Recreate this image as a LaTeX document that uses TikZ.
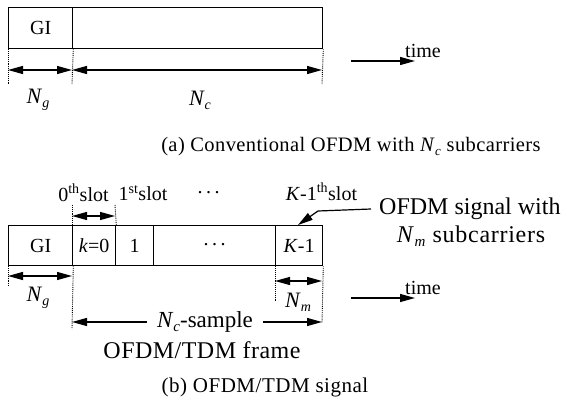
\documentclass[tikz,border=0pt]{standalone}
\usepackage{fontspec}
\setmainfont{Liberation Serif}
\usetikzlibrary{arrows.meta,calc}
\newcommand{\myN}[2]{\textit{N}\raisebox{-0.4ex}{\fontsize{#2}{#2}\selectfont\textit{#1}}}
\newcommand{\mydots}{.\hspace{3.5pt}.\hspace{3.5pt}.}
\begin{document}
\begin{tikzpicture}[x=1pt,y=-1pt,
  cell/.style={draw, line width=1.3pt, inner sep=0pt, anchor=north west,
    font=\fontsize{20}{23}\selectfont},
  dimarrow/.style={{Triangle[length=15pt,width=8pt]}-{Triangle[length=15pt,width=8pt]}, line width=1.2pt},
  onearrow/.style={-{Triangle[length=15pt,width=8pt]}, line width=1.2pt},
  guide/.style={densely dotted, line width=0.9pt},
  lbl/.style={inner sep=0pt, font=\fontsize{20}{23}\selectfont},
  biglbl/.style={inner sep=0pt, font=\fontsize{24}{27}\selectfont},
  caption/.style={inner sep=0pt, font=\fontsize{20.5}{24}\selectfont\addfontfeatures{LetterSpace=2}}]
\useasboundingbox (0,0) rectangle (574,401);

% ---------- (a) ----------
\node[cell, minimum width=64pt, minimum height=41pt] (giA) at (8,7) {GI};
\node[cell, minimum width=250pt, minimum height=41pt] (dataA) at (72,7) {};

\coordinate (gA1) at (8,84);
\coordinate (gA2) at (72,84);
\coordinate (gA3) at (322,84);
\draw[guide] (giA.south west) -- (gA1);
\draw[guide] (giA.south east) -- (gA2);
\draw[guide] (dataA.south east) -- (gA3);

\coordinate (aA1) at (8,70);
\coordinate (aA2) at (72,70);
\coordinate (aA3) at (322,70);
\draw[dimarrow] (aA1) -- (aA2);
\draw[dimarrow] (aA2) -- (aA3);

\node[lbl, font=\fontsize{22}{24}\selectfont] (ngA) at (38,100) {\myN{g}{14}};
\node[lbl, font=\fontsize{22}{24}\selectfont] (ncA) at (200,100) {\myN{c}{14}};

\coordinate (tA1) at (351,61);
\coordinate (tA2) at (415,61);
\draw[onearrow] (tA1) -- (tA2);
\node[lbl, anchor=south west] (timeA) at (405,58) {time};

\node[caption] (capA) at (351,147) {(a) Conventional OFDM with \myN{c}{13} subcarriers};

% ---------- (b) ----------
\node[cell, minimum width=64pt, minimum height=40pt] (giB) at (8,225) {GI};
\node[cell, minimum width=43pt, minimum height=40pt] (s0) at (72,225) {\textit{k}=0};
\node[cell, minimum width=38pt, minimum height=40pt] (s1) at (115,225) {1};
\node[cell, minimum width=122pt, minimum height=40pt] (sd) at (153,225) {\raisebox{3pt}{\mydots}};
\node[cell, minimum width=47pt, minimum height=40pt] (sk) at (275,225) {\textit{K}-1};

% slot labels
\node[lbl] (l0) at (83.5,193) {0\textsuperscript{th}slot};
\node[lbl] (l1) at (143,193) {1\textsuperscript{st}slot};
\node[lbl] (ld) at (208.5,193) {\mydots};
\node[lbl] (lk) at (321.5,192) {\textit{K}-1\textsuperscript{th}slot};

% 0th slot width
\coordinate (sg1) at (72,205);
\coordinate (sg2) at (115,205);
\draw[guide] (sg1) -- (s0.north west);
\draw[guide] (sg2) -- (s0.north east);
\coordinate (sa1) at (72,216);
\coordinate (sa2) at (115,216);
\draw[dimarrow] (sa1) -- (sa2);

% callout
\node[biglbl, anchor=west, inner xsep=8pt] (sig1) at (371,209) {OFDM signal with};
\node[biglbl, font=\fontsize{24}{27}\selectfont\addfontfeatures{LetterSpace=3}] (sig2) at (471,236) {\myN{m}{15} subcarriers};
\coordinate (cb) at (318,211);
\coordinate (ct) at (298,225);
\draw[onearrow] (sig1.west) -- (cb) -- (ct);

% guides below
\coordinate (gB1) at (8,287);
\coordinate (gB2) at (72,329);
\coordinate (gB3) at (275,302);
\coordinate (gB4) at (322,323);
\draw[guide] (giB.south west) -- (gB1);
\draw[guide] (giB.south east) -- (gB2);
\draw[guide] (sk.south west) -- (gB3);
\draw[guide] (sk.south east) -- (gB4);

\coordinate (bA1) at (8,276);
\coordinate (bA2) at (72,276);
\draw[dimarrow] (bA1) -- (bA2);
\node[lbl, font=\fontsize{22}{24}\selectfont] (ngB) at (38,298) {\myN{g}{14}};

\coordinate (mA1) at (275,281);
\coordinate (mA2) at (322,281);
\draw[dimarrow] (mA1) -- (mA2);
\node[lbl, font=\fontsize{22}{24}\selectfont] (nmB) at (298,302) {\myN{m}{14}};

\node[biglbl, font=\fontsize{23}{26}\selectfont, inner xsep=10pt] (ncs) at (205,322) {\myN{c}{15}-sample};
\coordinate (nl) at (72,322);
\coordinate (nr) at (322,322);
\draw[onearrow] (ncs.west) -- (nl);
\draw[onearrow] (ncs.east) -- (nr);
\node[biglbl, font=\fontsize{24}{27}\selectfont\addfontfeatures{LetterSpace=2}] (frame) at (202,350) {OFDM/TDM frame};

\coordinate (tB1) at (351,298);
\coordinate (tB2) at (415,298);
\draw[onearrow] (tB1) -- (tB2);
\node[lbl, anchor=south west] (timeB) at (405,295) {time};

\node[caption, font=\fontsize{21}{24}\selectfont\addfontfeatures{LetterSpace=2.5}] (capB) at (265,387) {(b) OFDM/TDM signal};
\end{tikzpicture}
\end{document}
